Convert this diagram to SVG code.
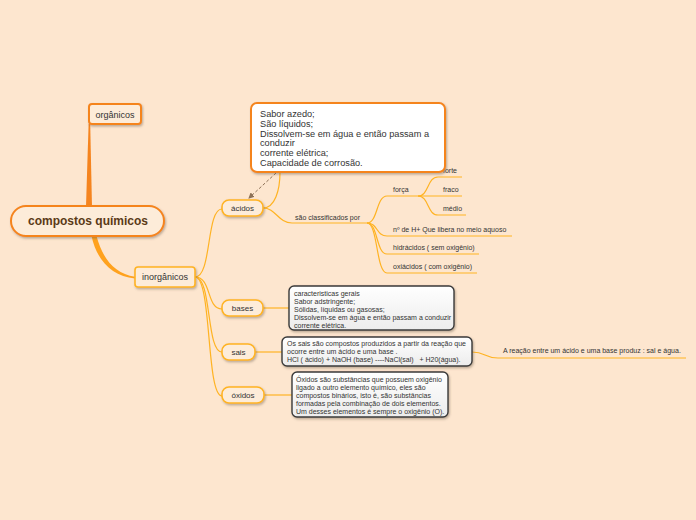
<svg xmlns="http://www.w3.org/2000/svg" width="696" height="520" viewBox="0 0 696 520">
<defs>
<filter id="sh" x="-20%" y="-20%" width="140%" height="160%">
<feDropShadow dx="1" dy="1.5" stdDeviation="0.8" flood-color="#6b5a48" flood-opacity="0.45"/>
</filter>
<linearGradient id="gb" x1="0" y1="0" x2="0" y2="1">
<stop offset="0" stop-color="#ffffff"/>
<stop offset="1" stop-color="#ececec"/>
</linearGradient>
<marker id="ar" markerWidth="6" markerHeight="6" refX="5" refY="3" orient="auto" markerUnits="userSpaceOnUse">
<path d="M0,0 L6,3 L0,6 Z" fill="#8c7056"/>
</marker>
<style>
text{font-family:"Liberation Sans",Arial,sans-serif;fill:#333}
.node{fill:#fdecd9;filter:url(#sh)}
.o{stroke:#f5841f;stroke-width:2}
.y{stroke:#ffb323;stroke-width:1.6}
.ln{fill:none;stroke:#ffb323;stroke-width:1.2}
.box{fill:url(#gb);stroke:#3a3a3a;stroke-width:1.4;filter:url(#sh)}
.s7{font-size:7px}
.s8{font-size:8px}
.s9{font-size:9px}
.mid{text-anchor:middle}
</style>
</defs>
<rect width="696" height="520" fill="#fde6cf"/>
<g id="connectors">
<path d="M86,207 L92,207 L90.2,124 L88.6,124 Z" fill="#f5841f"/>
<path d="M91.5,236 C97,261 112,276 135,278.6 L135,276.8 C115,273.5 103,260 96.5,236 Z" fill="#ffa21e"/>
<path class="ln" d="M195,277 C212,277 206,209 222,209"/>
<path class="ln" d="M195,277 C212,277 206,309 222,309"/>
<path class="ln" d="M195,277 C212,277 206,352 222,352"/>
<path class="ln" d="M195,277 C212,277 206,396 222,396"/>
<path class="ln" d="M263,208 C275,208 280,190 280,172"/>
<path class="ln" d="M263,208 C276,208 278,223 292,223 L367,223"/>
<path class="ln" d="M367,223 C378,223 376,196 387,196 L418,196"/>
<path class="ln" d="M367,223 C378,223 376,236 387,236 L512,236"/>
<path class="ln" d="M367,223 C378,223 376,254 387,254 L479,254"/>
<path class="ln" d="M367,223 C378,223 376,273 387,273 L477,273"/>
<path class="ln" d="M418,196 C429,196 427,177 438,177 L462,177"/>
<path class="ln" d="M418,196 L462,196"/>
<path class="ln" d="M418,196 C429,196 427,215 438,215 L466,215"/>
<path class="ln" d="M263,308 L289,308"/>
<path class="ln" d="M255,352 L282,352"/>
<path class="ln" d="M264,395 L292,395"/>
<path class="ln" d="M472,352 C486,352 484,358 498,358 L686,358"/>
<path d="M276,173 L249,198" fill="none" stroke="#8c7056" stroke-width="1" stroke-dasharray="3,2" marker-end="url(#ar)"/>
</g>
<g id="labels">
<text class="s7" x="295" y="220">são classificados por</text>
<text class="s7" x="393" y="192">força</text>
<text class="s7" x="443" y="172.5">forte</text>
<text class="s7" x="443" y="192">fraco</text>
<text class="s7" x="443" y="211">médio</text>
<text class="s7" x="393" y="232">nº de H+ Que libera no meio aquoso</text>
<text class="s7" x="393" y="250">hidrácidos ( sem oxigênio)</text>
<text class="s7" x="393" y="269">oxiácidos ( com oxigênio)</text>
<text class="s7" x="503" y="353">A reação entre um ácido e uma base produz : sal e água.</text>
</g>
<g id="central">
<rect class="node o" x="11" y="206" width="153" height="30" rx="15"/>
<text x="88" y="225" class="mid" font-size="12" font-weight="bold" style="fill:#5b3a17">compostos químicos</text>
</g>
<g id="organicos">
<rect class="node o" x="89" y="104" width="52" height="20" rx="3"/>
<text class="s9 mid" x="115" y="117.5">orgânicos</text>
</g>
<g id="inorganicos">
<rect class="node y" x="135" y="267" width="60" height="20" rx="3"/>
<text class="s9 mid" x="165" y="280">inorgânicos</text>
</g>
<g id="acidos">
<rect class="node y" x="222" y="200" width="41" height="16" rx="7"/>
<text class="s8 mid" x="242.5" y="211">ácidos</text>
</g>
<g id="bases">
<rect class="node y" x="222" y="300" width="41" height="16" rx="7"/>
<text class="s8 mid" x="242.5" y="311">bases</text>
</g>
<g id="sais">
<rect class="node y" x="222" y="344" width="33" height="16" rx="7"/>
<text class="s8 mid" x="238.5" y="355">sais</text>
</g>
<g id="oxidos">
<rect class="node y" x="222" y="387" width="42" height="16" rx="7"/>
<text class="s8 mid" x="243" y="398">óxidos</text>
</g>
<g id="acidos-nota">
<rect x="251" y="103" width="194" height="69" rx="6" fill="#ffffff" stroke="#f5841f" stroke-width="2" filter="url(#sh)"/>
<text font-size="9.2" x="260">
<tspan x="260" y="116.5">Sabor azedo;</tspan>
<tspan x="260" y="126.5">São líquidos;</tspan>
<tspan x="260" y="136.5">Dissolvem-se em água e então passam a</tspan>
<tspan x="260" y="146">conduzir</tspan>
<tspan x="260" y="156">corrente elétrica;</tspan>
<tspan x="260" y="166">Capacidade de corrosão.</tspan>
</text>
</g>
<g id="bases-nota">
<rect class="box" x="289" y="286" width="165" height="44" rx="5"/>
<text class="s7">
<tspan x="294" y="295.5">caracteristicas gerais</tspan>
<tspan x="294" y="303.5">Sabor adstringente;</tspan>
<tspan x="294" y="311.5">Sólidas, líquidas ou gasosas;</tspan>
<tspan x="294" y="319.5">Dissolvem-se em água e então passam a conduzir</tspan>
<tspan x="294" y="327.5">corrente elétrica.</tspan>
</text>
</g>
<g id="sais-nota">
<rect class="box" x="282" y="337" width="190" height="29" rx="5"/>
<text class="s7">
<tspan x="287" y="345.5">Os sais são compostos produzidos a partir da reação que</tspan>
<tspan x="287" y="353.5">ocorre entre um ácido e uma base .</tspan>
<tspan x="287" y="362" xml:space="preserve">HCl ( ácido) + NaOH (base) ----NaCl(sal)   + H20(água).</tspan>
</text>
</g>
<g id="oxidos-nota">
<rect class="box" x="292" y="372" width="156" height="45" rx="5"/>
<text class="s7">
<tspan x="296" y="382">Óxidos são substâncias que possuem oxigênio</tspan>
<tspan x="296" y="390">ligado a outro elemento químico, eles são</tspan>
<tspan x="296" y="398">compostos binários, isto é, são substâncias</tspan>
<tspan x="296" y="406">formadas pela combinação de dois elementos.</tspan>
<tspan x="296" y="414">Um desses elementos é sempre o oxigênio (O).</tspan>
</text>
</g>
</svg>
